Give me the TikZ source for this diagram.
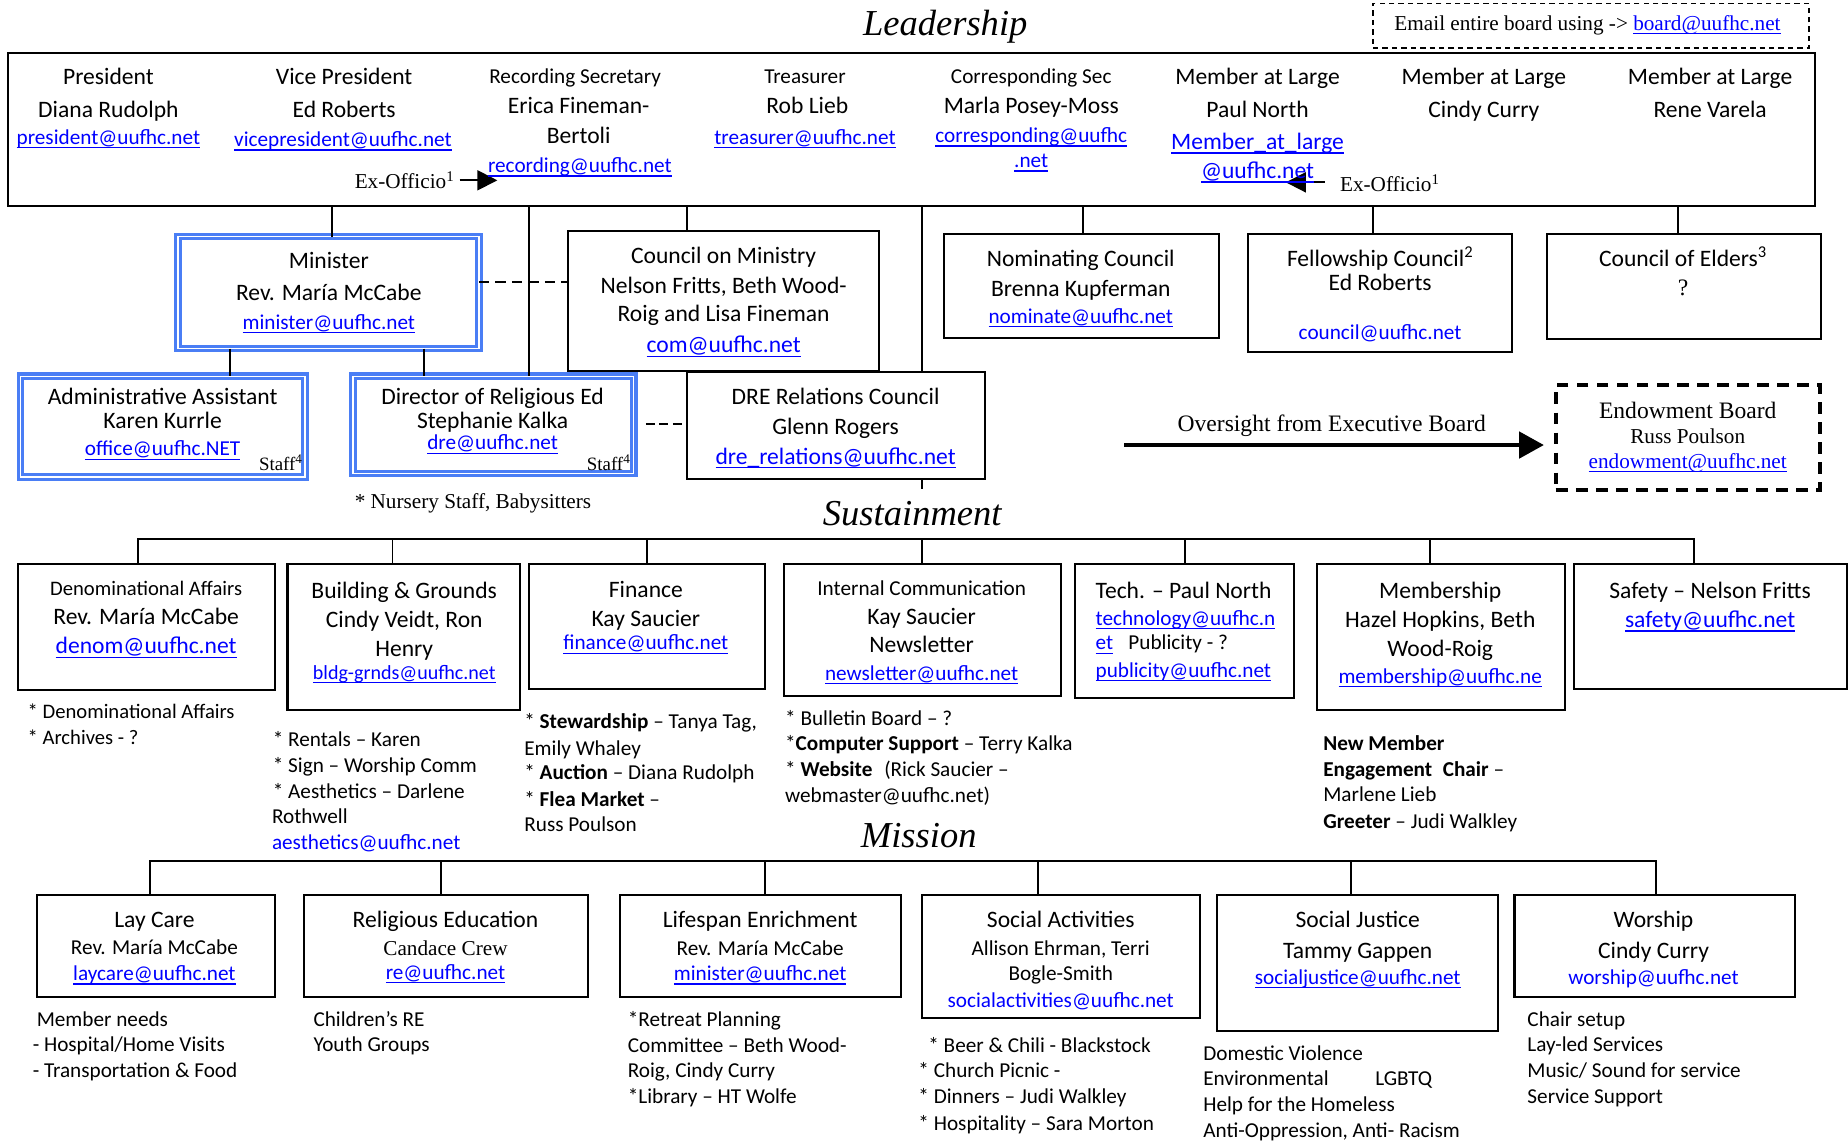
\documentclass[tikz,border=0pt]{standalone}
\usepackage{fontspec}
\setmainfont{Carlito}
\newfontfamily\tms{Liberation Serif}
\usetikzlibrary{arrows.meta}
\definecolor{lb}{RGB}{0,0,255}
\definecolor{bb}{RGB}{74,126,245}
\newcommand\lk[1]{{\color{lb}\setbox0=\hbox{#1}\rlap{\rule[-0.19em]{\wd0}{0.06em}}\box0}}
\newcommand\bl[1]{{\color{lb}#1}}
\newcommand\fsz[1]{\fontsize{#1}{#1}\selectfont}
\begin{document}
\begin{tikzpicture}[x=1pt,y=-1pt,
  bx/.style n args={2}{draw,line width=1.8pt,inner sep=0pt,outer sep=0pt,minimum width=#1,minimum height=#2},
  bbx/.style n args={2}{draw=bb,line width=2.6pt,double=white,double distance=1.3pt,inner sep=0pt,outer sep=0pt,minimum width=#1,minimum height=#2},
  tx/.style={inner sep=0pt,outer sep=0pt,anchor=base,font=\fsz{#1}}, tx/.default=20,
  tl/.style={tx=#1,anchor=base west}, tl/.default=18,
  tm/.style={inner sep=0pt,outer sep=0pt,anchor=base,font=\tms\fsz{#1}}, tm/.default=18,
  ttl/.style={inner sep=0pt,outer sep=0pt,anchor=base,font=\tms\itshape\fsz{31}},
  cn/.style={line width=1.5pt},
  dcn/.style={line width=1.5pt,dash pattern=on 9pt off 5pt},
  dcnb/.style={line width=1.5pt,dash pattern=on 7.5pt off 4pt},
  earrow/.style={line width=1.6pt,-{Triangle[length=17pt,width=17pt]}},
  bigarrow/.style={line width=4pt,-{Triangle[length=21pt,width=22pt]}}
]
\useasboundingbox (0,0) rectangle (1568,969);

% ---------- boxes ----------
\node[bx={1533pt}{130pt},line width=2pt] (lead) at (773.5,109.75) {};
\node[draw,line width=1.5pt,dash pattern=on 4.5pt off 3.5pt,inner sep=0pt,minimum width=370pt,minimum height=38pt] (email) at (1350,21.9) {};
\node[bbx={255pt}{95pt}] (min) at (278.75,248.2) {};
\node[bx={264pt}{118.8pt}] (com) at (614,255.1) {};
\node[bx={233pt}{88.2pt}] (nom) at (917.5,242.9) {};
\node[bx={224pt}{100.2pt}] (fel) at (1171,248.9) {};
\node[bx={232.6pt}{88.8pt}] (eld) at (1428.7,243.2) {};
\node[bbx={241.4pt}{85.2pt}] (admin) at (138,361.9) {};
\node[bbx={238.4pt}{82.4pt}] (dre) at (418.5,360.5) {};
\node[bx={252.5pt}{91.3pt}] (drc) at (709.25,361) {};
\node[draw,line width=3.2pt,dash pattern=on 10pt off 7pt,inner sep=0pt,minimum width=224.3pt,minimum height=89.1pt] (endow) at (1432.15,371.25) {};
\node[bx={218.1pt}{106.7pt}] (den) at (124.15,532.15) {};
\node[bx={197.3pt}{123.6pt}] (bg) at (342.55,540.6) {};
\node[bx={200.1pt}{106.1pt}] (fin) at (548.95,531.85) {};
\node[bx={234.8pt}{111.8pt}] (ic) at (782.6,534.7) {};
\node[bx={186.2pt}{113.7pt}] (tech) at (1004.9,535.65) {};
\node[bx={210.2pt}{123.6pt}] (mem) at (1222.9,540.6) {};
\node[bx={231.4pt}{106.1pt}] (saf) at (1451.3,531.85) {};
\node[bx={202pt}{86pt}] (lay) at (132.2,802.7) {};
\node[bx={241.2pt}{86pt}] (re) at (378.3,802.7) {};
\node[bx={238.2pt}{86pt}] (life) at (645.1,802.7) {};
\node[bx={236.2pt}{103.8pt}] (sa) at (900.1,811.6) {};
\node[bx={238.7pt}{114.8pt}] (sj) at (1151.95,817.1) {};
\node[bx={237.8pt}{86pt}] (wor) at (1403.9,802.7) {};

% ---------- connectors ----------
\coordinate (v1) at (282,0);
\coordinate (v2) at (449,0);
\coordinate (v3) at (583,0);
\coordinate (v4) at (782,0);
\coordinate (v5) at (919,0);
\coordinate (v6) at (1165,0);
\coordinate (v7) at (1424,0);
\coordinate (v8) at (195,0);
\coordinate (v9) at (360,0);
\draw[cn] (v1 |- lead.south) -- (v1 |- min.north);
\draw[cn] (v2 |- lead.south) -- (v2 |- dre.north);
\draw[cn] (v3 |- lead.south) -- (v3 |- com.north);
\draw[cn] (v4 |- lead.south) -- (v4 |- drc.north);
\draw[cn] (v5 |- lead.south) -- (v5 |- nom.north);
\draw[cn] (v6 |- lead.south) -- (v6 |- fel.north);
\draw[cn] (v7 |- lead.south) -- (v7 |- eld.north);
\draw[cn] (v8 |- min.south) -- (v8 |- admin.north);
\draw[cn] (v9 |- min.south) -- (v9 |- dre.north);
\coordinate (hd1) at (0,239.3);
\draw[dcn] (min.east |- hd1) -- (com.west |- hd1);
\coordinate (hd2) at (548,360);
\draw[dcnb] (hd2) -- (drc.west |- hd2);
\coordinate (stub) at (782,415.2);
\draw[cn] (v4 |- drc.south) -- (stub);
% Ex-Officio arrows
\coordinate (eo1a) at (390,153);
\coordinate (eo1b) at (422,153);
\draw[earrow] (eo1a) -- (eo1b);
\coordinate (eo2a) at (1124,154.7);
\coordinate (eo2b) at (1091,154.7);
\draw[earrow] (eo2a) -- (eo2b);
% oversight arrow
\coordinate (ov1) at (954,377.6);
\coordinate (ov2) at (1310,377.6);
\draw[bigarrow] (ov1) -- (ov2);
% Sustainment bar
\coordinate (sL) at (117,457.6);
\coordinate (sR) at (1437,457.6);
\coordinate (s2) at (333,457.6);
\coordinate (s3) at (549,457.6);
\coordinate (s4) at (782,457.6);
\coordinate (s5) at (1005.6,457.6);
\coordinate (s6) at (1213,457.6);
\draw[cn] (sL |- den.north) -- (sL) -- (sR) -- (sR |- saf.north);
\draw[cn] (s2) -- (s2 |- bg.north);
\draw[cn] (s3) -- (s3 |- fin.north);
\draw[cn] (s4) -- (s4 |- ic.north);
\draw[cn] (s5) -- (s5 |- tech.north);
\draw[cn] (s6) -- (s6 |- mem.north);
% Mission bar
\coordinate (mL) at (127,730.3);
\coordinate (mR) at (1405,730.3);
\coordinate (m2) at (374,730.3);
\coordinate (m3) at (649,730.3);
\coordinate (m4) at (881,730.3);
\coordinate (m5) at (1146,730.3);
\draw[cn] (mL |- lay.north) -- (mL) -- (mR) -- (mR |- wor.north);
\draw[cn] (m2) -- (m2 |- re.north);
\draw[cn] (m3) -- (m3 |- life.north);
\draw[cn] (m4) -- (m4 |- sa.north);
\draw[cn] (m5) -- (m5 |- sj.north);

% ---------- titles ----------
\node[ttl] (tLead) at (802,29.7) {Leadership};
\node[ttl] (tSus) at (774,445.5) {Sustainment};
\node[ttl] (tMis) at (779.5,719) {Mission};
\node[tm] (tEmail) at (1347,25.5) {Email entire board using -> \lk{board@uufhc.net}};

% ---------- leadership ----------
\node[tx] (a1) at (92,72) {President};
\node[tx] (a2) at (92,99.5) {Diana Rudolph};
\node[tx=18] (a3) at (92,122.5) {\lk{president@uufhc.net}};
\node[tx] (b1) at (292,72) {Vice President};
\node[tx] (b2) at (292,99.5) {Ed Roberts};
\node[tx=18] (b3) at (291,124.4) {\lk{vicepresident@uufhc.net}};
\node[tx=18] (c1) at (488,70.7) {Recording Secretary};
\node[tx] (c2) at (491,96.7) {Erica Fineman-};
\node[tx] (c3) at (491,121.6) {Bertoli};
\node[tx=18] (c4) at (492,146.5) {\lk{recording@uufhc.net}};
\node[tx=18] (d1) at (683,70.7) {Treasurer};
\node[tx] (d2) at (685,96.7) {Rob Lieb};
\node[tx=18] (d3) at (683,122.2) {\lk{treasurer@uufhc.net}};
\node[tx=18] (e1) at (875,70.7) {Corresponding Sec};
\node[tx] (e2) at (875,96.7) {Marla Posey-Moss};
\node[tx=18] (e3) at (875,121) {\lk{corresponding@uufhc}};
\node[tx=18] (e4) at (875,142.3) {\lk{.net}};
\node[tx] (f1) at (1067,72) {Member at Large};
\node[tx] (f2) at (1067,99.5) {Paul North};
\node[tx] (f3) at (1067,126.7) {\lk{Member\_at\_large}};
\node[tx] (f4) at (1067,151.3) {\lk{@uufhc.net}};
\node[tx] (g1) at (1259,72) {Member at Large};
\node[tx] (g2) at (1259,99.5) {Cindy Curry};
\node[tx] (h1) at (1451,72) {Member at Large};
\node[tx] (h2) at (1451,99.5) {Rene Varela};
\node[tm,anchor=base west] (eo1) at (301,160) {Ex-Officio\textsuperscript{1}};
\node[tm,anchor=base west] (eo2) at (1137,162.6) {Ex-Officio\textsuperscript{1}};

% ---------- second row ----------
\node[tx] (mi1) at (279,227.7) {Minister};
\node[tx] (mi2) at (279,254.6) {Rev. María McCabe};
\node[tx=18] (mi3) at (279,279.4) {\lk{minister@uufhc.net}};
\node[tx] (co1) at (614,223.4) {Council on Ministry};
\node[tx] (co2) at (614,248.9) {Nelson Fritts, Beth Wood-};
\node[tx] (co3) at (614,272.9) {Roig and Lisa Fineman};
\node[tx] (co4) at (614,299.2) {\lk{com@uufhc.net}};
\node[tx] (no1) at (917,226.3) {Nominating Council};
\node[tx] (no2) at (917,251.2) {Brenna Kupferman};
\node[tx=18] (no3) at (917,274.3) {\lk{nominate@uufhc.net}};
\node[tx] (fe1) at (1171,226.3) {Fellowship Council\textsuperscript{2}};
\node[tx] (fe2) at (1171,246.9) {Ed Roberts};
\node[tx=18] (fe3) at (1171,287.9) {\bl{council@uufhc.net}};
\node[tx] (el1) at (1428,226.3) {Council of Elders\textsuperscript{3}};
\node[tm=20] (el2) at (1428,250.3) {?};

% ---------- third row ----------
\node[tx] (ad1) at (138,343.6) {Administrative Assistant};
\node[tx] (ad2) at (138,363.4) {Karen Kurrle};
\node[tx=18] (ad3) at (138,386.9) {\lk{office@uufhc.NET}};
\node[tm=16,anchor=base west] (ad4) at (219.8,399.4) {Staff\textsuperscript{4}};
\node[tx] (dr1) at (418,343.6) {Director of Religious Ed};
\node[tx] (dr2) at (418,363.4) {Stephanie Kalka};
\node[tx=18] (dr3) at (418,381.8) {\lk{dre@uufhc.net}};
\node[tm=16,anchor=base west] (dr4) at (498,399.4) {Staff\textsuperscript{4}};
\node[tx] (rc1) at (709,343.6) {DRE Relations Council};
\node[tx] (rc2) at (709,368.3) {Glenn Rogers};
\node[tx] (rc3) at (709,393.7) {\lk{dre\_relations@uufhc.net}};
\node[tm,anchor=base west] (nur) at (301,431.3) {* Nursery Staff, Babysitters};
\node[tm=20] (ovt) at (1130,366.3) {Oversight from Executive Board};
\node[tm=20] (en1) at (1432,355) {Endowment Board};
\node[tm] (en2) at (1432,376.2) {Russ Poulson};
\node[tm] (en3) at (1432,397.4) {\lk{endowment@uufhc.net}};

% ---------- sustainment ----------
\node[tx=17.5] (de1) at (124,504.9) {Denominational Affairs};
\node[tx] (de2) at (124,529.5) {Rev. María McCabe};
\node[tx] (de3) at (124,554.9) {\lk{denom@uufhc.net}};
\node[tx] (bg1) at (343,507.7) {Building \& Grounds};
\node[tx] (bg2) at (343,532.3) {Cindy Veidt, Ron};
\node[tx] (bg3) at (343,556.6) {Henry};
\node[tx=17] (bg4) at (343,576.4) {\lk{bldg-grnds@uufhc.net}};
\node[tx] (fi1) at (548,506.8) {Finance};
\node[tx] (fi2) at (548,531.7) {Kay Saucier};
\node[tx=18] (fi3) at (548,551.5) {\lk{finance@uufhc.net}};
\node[tx=18] (ic1) at (782,504.9) {Internal Communication};
\node[tx] (ic2) at (782,529.5) {Kay Saucier};
\node[tx] (ic3) at (782,553.8) {Newsletter};
\node[tx=18] (ic4) at (782,577) {\lk{newsletter@uufhc.net}};
\node[tl=20] (te1) at (929.6,507.7) {Tech. – Paul North};
\node[tl] (te2) at (929.6,530.3) {\lk{technology@uufhc.n}};
\node[tl] (te3) at (929.6,551.5) {\lk{et}\hspace{13pt}Publicity - ?};
\node[tl] (te4) at (929.6,574.7) {\lk{publicity@uufhc.net}};
\node[tx] (me1) at (1222,507.7) {Membership};
\node[tx] (me2) at (1222,532.3) {Hazel Hopkins, Beth};
\node[tx] (me3) at (1222,557.2) {Wood-Roig};
\node[tx=18] (me4) at (1222,579.8) {\lk{membership@uufhc.ne}};
\node[tx] (sf1) at (1451,507.7) {Safety – Nelson Fritts};
\node[tx] (sf2) at (1451,532.3) {\lk{safety@uufhc.net}};

% notes
\node[tl=17.5] (n1) at (23.5,609.5) {* Denominational Affairs};
\node[tl=17.5] (n2) at (23.5,632.1) {* Archives - ?};
\node[tl] (n3) at (231.5,633) {* Rentals – Karen};
\node[tl] (n4) at (231.5,655.6) {* Sign – Worship Comm};
\node[tl] (n5) at (231.5,677.4) {* Aesthetics – Darlene};
\node[tl] (n6) at (230.8,698.6) {Rothwell};
\node[tl] (n7) at (230.8,721.2) {\bl{aesthetics@uufhc.net}};
\node[tl] (n8) at (444.9,618) {* \textbf{Stewardship} – Tanya Tag,};
\node[tl] (n9) at (444.9,640.6) {Emily Whaley};
\node[tl] (n10) at (444.9,661.8) {* \textbf{Auction} – Diana Rudolph};
\node[tl] (n11) at (444.9,684.5) {* \textbf{Flea Market} –};
\node[tl] (n12) at (444.9,705.7) {Russ Poulson};
\node[tl] (n13) at (666.2,615.2) {* Bulletin Board – ?};
\node[tl] (n14) at (666.2,637) {*\textbf{Computer Support} – Terry Kalka};
\node[tl] (n15) at (666.2,659) {* \textbf{Website}\hspace{6pt} (Rick Saucier –};
\node[tl] (n16) at (666.2,681) {webmaster@uufhc.net)};
\node[tl] (n17) at (1122.8,636.4) {\textbf{New Member}};
\node[tl] (n18) at (1122.8,659) {\textbf{Engagement\hspace{5pt} Chair} –};
\node[tl] (n19) at (1122.8,680.2) {Marlene Lieb};
\node[tl] (n20) at (1122.8,702.8) {\textbf{Greeter} – Judi Walkley};

% ---------- mission ----------
\node[tx] (la1) at (131,786.9) {Lay Care};
\node[tx=18] (la2) at (131,809.5) {Rev. María McCabe};
\node[tx=18] (la3) at (131,832.1) {\lk{laycare@uufhc.net}};
\node[tx] (rl1) at (378,786.9) {Religious Education};
\node[tm] (rl2) at (378,810.3) {Candace Crew};
\node[tx=18] (rl3) at (378,831) {\lk{re@uufhc.net}};
\node[tx] (li1) at (645,786.9) {Lifespan Enrichment};
\node[tx=18] (li2) at (645,810.3) {Rev. María McCabe};
\node[tx=18] (li3) at (645,832.1) {\lk{minister@uufhc.net}};
\node[tx] (so1) at (900,786.9) {Social Activities};
\node[tx=18] (so2) at (900,810.3) {Allison Ehrman, Terri};
\node[tx=18] (so3) at (900,832.1) {Bogle-Smith};
\node[tx=18] (so4) at (900,854.7) {\bl{socialactivities@uufhc.net}};
\node[tx] (sj1) at (1152,786.9) {Social Justice};
\node[tx] (sj2) at (1152,813.2) {Tammy Gappen};
\node[tx=18] (sj3) at (1152,834.9) {\lk{socialjustice@uufhc.net}};
\node[tx] (wo1) at (1403,786.9) {Worship};
\node[tx] (wo2) at (1403,813.2) {Cindy Curry};
\node[tx=18] (wo3) at (1403,834.9) {\bl{worship@uufhc.net}};

% mission notes
\node[tl] (p1) at (31.2,870.6) {Member needs};
\node[tl] (p2) at (27.8,892.4) {- Hospital/Home Visits};
\node[tl] (p3) at (27.8,914.1) {- Transportation \& Food};
\node[tl] (p4) at (266,870.6) {Children’s RE};
\node[tl] (p5) at (266,892.4) {Youth Groups};
\node[tl] (p6) at (532.7,871.1) {*Retreat Planning};
\node[tl] (p7) at (532.7,892.8) {Committee – Beth Wood-};
\node[tl] (p8) at (532.7,914.5) {Roig, Cindy Curry};
\node[tl] (p9) at (532.7,936.3) {*Library – HT Wolfe};
\node[tl] (p10) at (787.7,892.9) {* Beer \& Chili - Blackstock};
\node[tl] (p11) at (779.3,914.5) {* Church Picnic -};
\node[tl] (p12) at (779.3,936.3) {* Dinners – Judi Walkley};
\node[tl] (p13) at (779.3,958.8) {* Hospitality – Sara Morton};
\node[tl] (p14) at (1021,899.4) {Domestic Violence};
\node[tl] (p15) at (1021,921.2) {\makebox[146pt][l]{Environmental}LGBTQ};
\node[tl] (p16) at (1021,943.3) {Help for the Homeless};
\node[tl] (p17) at (1021,965) {Anti-Oppression, Anti- Racism};
\node[tl] (p18) at (1296,870.6) {Chair setup};
\node[tl] (p19) at (1296,892.4) {Lay-led Services};
\node[tl] (p20) at (1296,914.1) {Music/ Sound for service};
\node[tl] (p21) at (1296,936.2) {Service Support};
\end{tikzpicture}
\end{document}
